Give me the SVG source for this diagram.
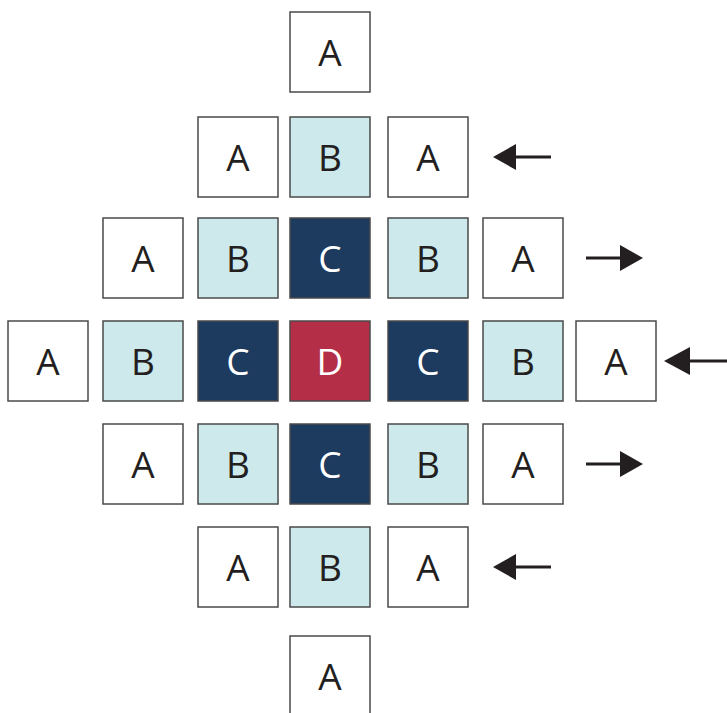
<svg xmlns="http://www.w3.org/2000/svg" width="727" height="713" viewBox="0 0 727 713">
<style>
rect{stroke:#4a4a4a;stroke-width:1.5}
.a{fill:#ffffff}.b{fill:#cde9ec}.c{fill:#1d3a5f}.d{fill:#b52e47}
text{font-family:"Open Sans","Noto Sans",sans-serif;font-size:37px;text-anchor:middle}
.k{fill:#231f20}.w{fill:#ffffff}
.ln{stroke:#231f20;stroke-width:3;fill:none}
.hd{fill:#231f20}
</style>
<g id="r1c4"><rect class="a" x="290" y="12" width="80" height="80"/><text class="k" x="330" y="66">A</text></g>
<g id="r2c3"><rect class="a" x="198" y="117" width="80" height="80"/><text class="k" x="238" y="171">A</text></g>
<g id="r2c4"><rect class="b" x="290" y="117" width="80" height="80"/><text class="k" x="330" y="171">B</text></g>
<g id="r2c5"><rect class="a" x="388" y="117" width="80" height="80"/><text class="k" x="428" y="171">A</text></g>
<g id="r3c2"><rect class="a" x="103" y="218" width="80" height="80"/><text class="k" x="143" y="272">A</text></g>
<g id="r3c3"><rect class="b" x="198" y="218" width="80" height="80"/><text class="k" x="238" y="272">B</text></g>
<g id="r3c4"><rect class="c" x="290" y="218" width="80" height="80"/><text class="w" x="330" y="272">C</text></g>
<g id="r3c5"><rect class="b" x="388" y="218" width="80" height="80"/><text class="k" x="428" y="272">B</text></g>
<g id="r3c6"><rect class="a" x="483" y="218" width="80" height="80"/><text class="k" x="523" y="272">A</text></g>
<g id="r4c1"><rect class="a" x="8" y="321" width="80" height="80"/><text class="k" x="48" y="375">A</text></g>
<g id="r4c2"><rect class="b" x="103" y="321" width="80" height="80"/><text class="k" x="143" y="375">B</text></g>
<g id="r4c3"><rect class="c" x="198" y="321" width="80" height="80"/><text class="w" x="238" y="375">C</text></g>
<g id="r4c4"><rect class="d" x="290" y="321" width="80" height="80"/><text class="w" x="330" y="375">D</text></g>
<g id="r4c5"><rect class="c" x="388" y="321" width="80" height="80"/><text class="w" x="428" y="375">C</text></g>
<g id="r4c6"><rect class="b" x="483" y="321" width="80" height="80"/><text class="k" x="523" y="375">B</text></g>
<g id="r4c7"><rect class="a" x="576" y="321" width="80" height="80"/><text class="k" x="616" y="375">A</text></g>
<g id="r5c2"><rect class="a" x="103" y="424" width="80" height="80"/><text class="k" x="143" y="478">A</text></g>
<g id="r5c3"><rect class="b" x="198" y="424" width="80" height="80"/><text class="k" x="238" y="478">B</text></g>
<g id="r5c4"><rect class="c" x="290" y="424" width="80" height="80"/><text class="w" x="330" y="478">C</text></g>
<g id="r5c5"><rect class="b" x="388" y="424" width="80" height="80"/><text class="k" x="428" y="478">B</text></g>
<g id="r5c6"><rect class="a" x="483" y="424" width="80" height="80"/><text class="k" x="523" y="478">A</text></g>
<g id="r6c3"><rect class="a" x="198" y="527" width="80" height="80"/><text class="k" x="238" y="581">A</text></g>
<g id="r6c4"><rect class="b" x="290" y="527" width="80" height="80"/><text class="k" x="330" y="581">B</text></g>
<g id="r6c5"><rect class="a" x="388" y="527" width="80" height="80"/><text class="k" x="428" y="581">A</text></g>
<g id="r7c4"><rect class="a" x="290" y="636" width="80" height="80"/><text class="k" x="330" y="690">A</text></g>
<g id="connectors">
<line class="ln" x1="514" y1="157" x2="551" y2="157"/><polygon class="hd" points="493,157 516,144 516,170"/>
<line class="ln" x1="586" y1="258" x2="622" y2="258"/><polygon class="hd" points="643,258 620,245 620,271"/>
<line class="ln" x1="688" y1="361" x2="727" y2="361"/><polygon class="hd" points="664,361 690,347 690,375"/>
<line class="ln" x1="586" y1="464" x2="622" y2="464"/><polygon class="hd" points="643,464 620,451 620,477"/>
<line class="ln" x1="514" y1="567" x2="551" y2="567"/><polygon class="hd" points="493,567 516,554 516,580"/>
</g>
</svg>
